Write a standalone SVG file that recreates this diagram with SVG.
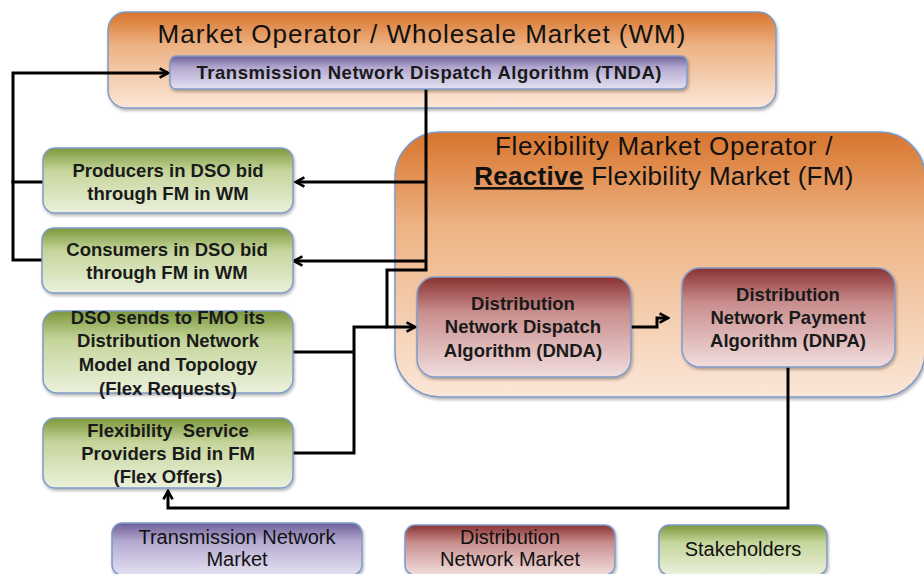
<svg xmlns="http://www.w3.org/2000/svg" width="924" height="574" viewBox="0 0 924 574">
  <defs>
    <linearGradient id="gOrange" x1="0" y1="0" x2="0" y2="1">
      <stop offset="0" stop-color="#D8742C"/>
      <stop offset="0.35" stop-color="#EDB283"/>
      <stop offset="1" stop-color="#FBE7D8"/>
    </linearGradient>
    <linearGradient id="gPurple" x1="0" y1="0" x2="0" y2="1">
      <stop offset="0" stop-color="#6E5E98"/>
      <stop offset="0.35" stop-color="#B3A9D0"/>
      <stop offset="1" stop-color="#E4E0F1"/>
    </linearGradient>
    <linearGradient id="gRed" x1="0" y1="0" x2="0" y2="1">
      <stop offset="0" stop-color="#8A3232"/>
      <stop offset="0.35" stop-color="#C98D8D"/>
      <stop offset="1" stop-color="#F1DDDD"/>
    </linearGradient>
    <linearGradient id="gGreen" x1="0" y1="0" x2="0" y2="1">
      <stop offset="0" stop-color="#7C983C"/>
      <stop offset="0.35" stop-color="#C5D59A"/>
      <stop offset="1" stop-color="#EBF1DC"/>
    </linearGradient>
    <filter id="shadow" x="-10%" y="-10%" width="120%" height="130%">
      <feDropShadow dx="1" dy="2" stdDeviation="1.5" flood-color="#000" flood-opacity="0.3"/>
    </filter>
    <marker id="ah" viewBox="0 0 10 10" refX="8.5" refY="5" markerWidth="4" markerHeight="4" orient="auto" markerUnits="strokeWidth">
      <path d="M1.5,1.2 L8.5,5 L1.5,8.8" fill="none" stroke="#000" stroke-width="2.2" stroke-linejoin="miter"/>
    </marker>
  </defs>
  <style>
    .box { stroke: #7E9BC8; stroke-width: 1.5; filter: url(#shadow); }
    .or { fill: url(#gOrange); }
    .pu { fill: url(#gPurple); }
    .rd { fill: url(#gRed); }
    .gr { fill: url(#gGreen); }
    .title { font-family: "Liberation Sans", Arial, sans-serif; font-size: 26px; fill: #111; text-anchor: middle; }
    .bt { font-family: "Liberation Sans", Arial, sans-serif; font-size: 18.5px; font-weight: bold; fill: #1a1a1a; text-anchor: middle; }
    .lg { font-family: "Liberation Sans", Arial, sans-serif; font-size: 20px; fill: #111; text-anchor: middle; }
    .conn { fill: none; stroke: #000; stroke-width: 3; stroke-linejoin: miter; }
  </style>

  <!-- Containers -->
  <g id="wm">
    <rect class="box or" x="108" y="12" width="668" height="96" rx="18"/>
    <text class="title" x="422" y="43" letter-spacing="1">Market Operator / Wholesale Market (WM)</text>
  </g>
  <g id="fm">
    <rect class="box or" x="395" y="132" width="530" height="265" rx="45"/>
    <text class="title" x="664" y="155" letter-spacing="0.7">Flexibility Market Operator /</text>
    <text class="title" x="664" y="185" letter-spacing="0.3"><tspan font-weight="bold" text-decoration="underline">Reactive</tspan> Flexibility Market (FM)</text>
  </g>

  <!-- Connectors -->
  <g id="connectors">
    <path class="conn" d="M43,182 H13 V73 H168" marker-end="url(#ah)"/>
    <path class="conn" d="M42,260 H13 V180"/>
    <path class="conn" d="M426,89 V270 H387 V327 H415" marker-end="url(#ah)"/>
    <path class="conn" d="M426,182 H296" marker-end="url(#ah)"/>
    <path class="conn" d="M426,261 H294" marker-end="url(#ah)"/>
    <path class="conn" d="M293,352 H354"/>
    <path class="conn" d="M293,453 H354 V327 H387"/>
    <path class="conn" d="M631,327 H657 V318 H668" marker-end="url(#ah)"/>
    <path class="conn" d="M788,367 V508 H168 V491" marker-end="url(#ah)"/>
  </g>

  <!-- Nodes -->
  <g id="tnda">
    <rect class="box pu" x="170" y="56" width="517" height="33" rx="6"/>
    <text class="bt" x="429" y="79" font-size="18" textLength="465" lengthAdjust="spacing">Transmission Network Dispatch Algorithm (TNDA)</text>
  </g>
  <g id="producers">
    <rect class="box gr" x="43" y="148" width="250" height="65" rx="12"/>
    <text class="bt" x="168" y="177">Producers in DSO bid</text>
    <text class="bt" x="168" y="200">through FM in WM</text>
  </g>
  <g id="consumers">
    <rect class="box gr" x="42" y="228" width="251" height="65" rx="12"/>
    <text class="bt" x="167" y="256">Consumers in DSO bid</text>
    <text class="bt" x="167" y="279">through FM in WM</text>
  </g>
  <g id="dso">
    <rect class="box gr" x="43" y="311" width="250" height="82" rx="14"/>
    <text class="bt" x="168" y="324">DSO sends to FMO its</text>
    <text class="bt" x="168" y="347">Distribution Network</text>
    <text class="bt" x="168" y="371">Model and Topology</text>
    <text class="bt" x="168" y="395">(Flex Requests)</text>
  </g>
  <g id="fsp">
    <rect class="box gr" x="43" y="418" width="250" height="70" rx="12"/>
    <text class="bt" x="168" y="437" style="white-space:pre">Flexibility  Service</text>
    <text class="bt" x="168" y="460">Providers Bid in FM</text>
    <text class="bt" x="168" y="483">(Flex Offers)</text>
  </g>
  <g id="dnda">
    <rect class="box rd" x="417" y="277" width="214" height="100" rx="18"/>
    <text class="bt" x="523" y="310">Distribution</text>
    <text class="bt" x="523" y="333">Network Dispatch</text>
    <text class="bt" x="523" y="357">Algorithm (DNDA)</text>
  </g>
  <g id="dnpa">
    <rect class="box rd" x="682" y="268" width="213" height="99" rx="18"/>
    <text class="bt" x="788" y="301">Distribution</text>
    <text class="bt" x="788" y="324">Network Payment</text>
    <text class="bt" x="788" y="347">Algorithm (DNPA)</text>
  </g>

  <!-- Legend -->
  <g id="legend-tn">
    <rect class="box pu" x="112" y="523" width="250" height="52" rx="10"/>
    <text class="lg" x="237" y="544">Transmission Network</text>
    <text class="lg" x="237" y="566">Market</text>
  </g>
  <g id="legend-dn">
    <rect class="box rd" x="405" y="525" width="210" height="50" rx="10"/>
    <text class="lg" x="510" y="544">Distribution</text>
    <text class="lg" x="510" y="566">Network Market</text>
  </g>
  <g id="legend-sh">
    <rect class="box gr" x="659" y="525" width="168" height="50" rx="10"/>
    <text class="lg" x="743" y="556">Stakeholders</text>
  </g>
</svg>
